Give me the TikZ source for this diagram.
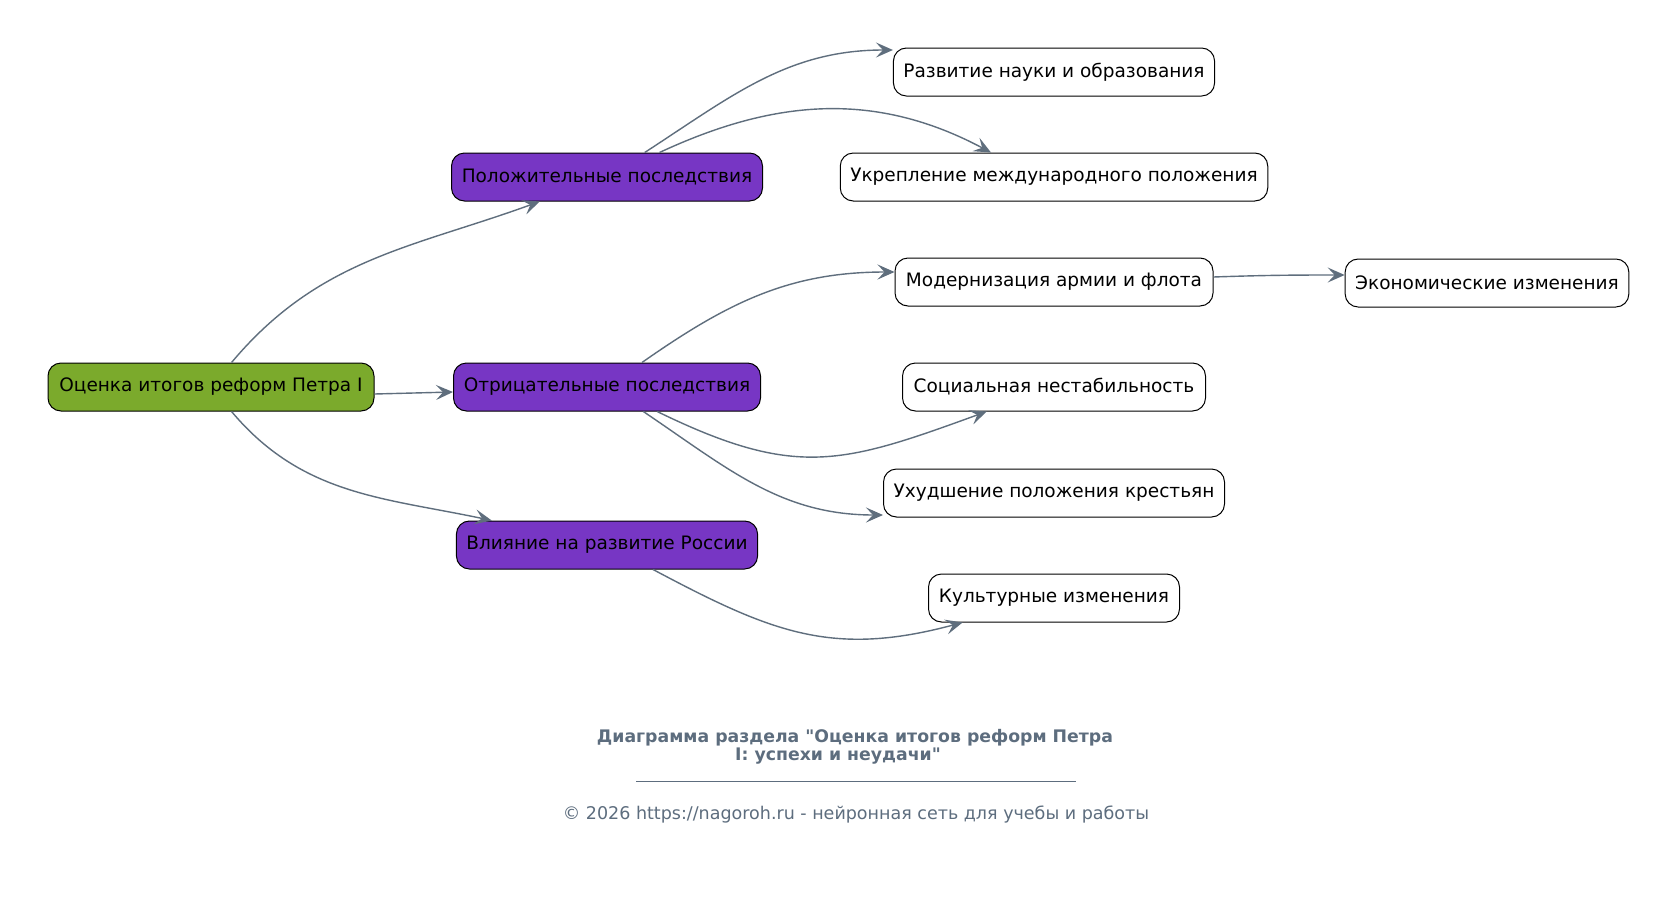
\documentclass[tikz,border=0pt]{standalone}
\usepackage{fontspec}
\setmainfont{DejaVu Sans}[Ligatures=TeXOff]
\usetikzlibrary{arrows.meta}
\definecolor{gr}{HTML}{7BAA2C}
\definecolor{pu}{HTML}{7736C4}
\definecolor{ec}{HTML}{5F6E7D}
\definecolor{tc}{HTML}{5D6D7E}
\begin{document}
\begin{tikzpicture}[x=1pt,y=-1pt,
  box/.style={draw=black, line width=1pt, rounded corners=13pt, minimum height=48pt, inner xsep=10pt, font=\fontsize{18.5}{21}\selectfont, text=black},
  root/.style={box, fill=gr},
  mid/.style={box, fill=pu},
  leaf/.style={box, fill=white},
  edge/.style={draw=ec, line width=1.4pt, -{Stealth[length=17pt,width=15pt,inset=7pt]}}]
\fill[white] (0,0) rectangle (1676,897);
\useasboundingbox (0,0) rectangle (1676,897);
\node[root, minimum width=326pt] (g) at (211,387) {Оценка итогов реформ Петра I};
\node[mid, minimum width=311pt] (p) at (607,177) {Положительные последствия};
\node[mid, minimum width=307pt] (n) at (607,387) {Отрицательные последствия};
\node[mid, minimum width=301pt] (i) at (607,545) {Влияние на развитие России};
\node[leaf, minimum width=321pt] (r) at (1054,72) {Развитие науки и образования};
\node[leaf, minimum width=427pt] (u) at (1054,177) {Укрепление международного положения};
\node[leaf, minimum width=318pt] (m) at (1054,282) {Модернизация армии и флота};
\node[leaf, minimum width=303pt] (s) at (1054,387) {Социальная нестабильность};
\node[leaf, minimum width=341pt] (x) at (1054,493) {Ухудшение положения крестьян};
\node[leaf, minimum width=251pt] (k) at (1054,598) {Культурные изменения};
\node[leaf, minimum width=283pt] (e) at (1487,283) {Экономические изменения};
\draw[edge] (g) to[out=50,in=200] (p);
\draw[edge] ([yshift=-7pt]g.east) -- ([yshift=-5pt]n.west);
\draw[edge] (g) to[out=-50,in=168] (i);
\draw[edge] (p) to[out=33,in=180] ([yshift=22pt]r.west);
\draw[edge] (p) to[out=25,in=152] ([xshift=-63pt]u.north);
\draw[edge] (n) to[out=35,in=180] ([yshift=10pt]m.west);
\draw[edge] (n) to[out=-26,in=200,looseness=1.2] (s);
\draw[edge] (n) to[out=-34,in=180] ([yshift=-22pt]x.west);
\draw[edge] (i) to[out=-28,in=195,looseness=1.1] (k);
\draw[edge] ([yshift=5pt]m.east) to[out=2,in=180] ([yshift=8pt]e.west);
\node[font=\bfseries\fontsize{17.3}{18}\selectfont, text=tc, align=center] (t) at (855,747) {Диаграмма раздела "Оценка итогов реформ Петра\\I: успехи и неудачи"\hspace*{34pt}};
\draw[tc, line width=0.8pt] (636,781) -- (1076,781);
\node[font=\fontsize{17.5}{20}\selectfont, text=tc] (c) at (856,815) {© 2026 https://nagoroh.ru - нейронная сеть для учебы и работы};
\end{tikzpicture}
\end{document}
